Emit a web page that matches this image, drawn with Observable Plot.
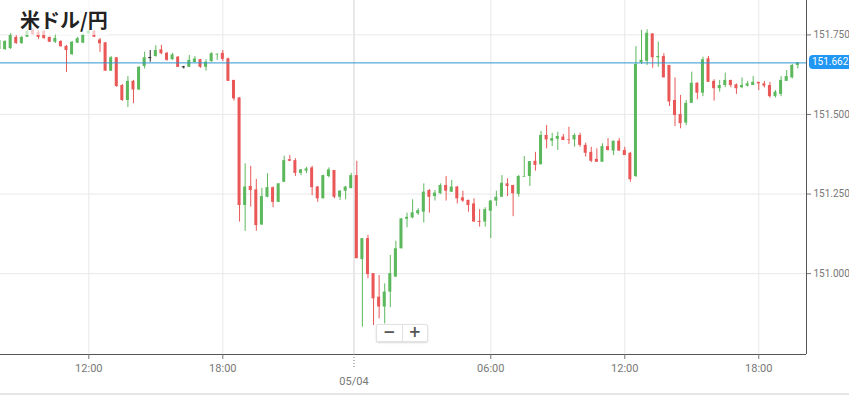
<!DOCTYPE html>
<html>
<head>
<meta charset="utf-8">
<script src="https://cdn.jsdelivr.net/npm/d3@7"></script>
<script src="https://cdn.jsdelivr.net/npm/@observablehq/plot@0.6"></script>
<style>
  html, body { margin: 0; padding: 0; background: #fff; }
  #wrap { position: relative; width: 849px; height: 395px; overflow: hidden; font-family: Roboto, "Liberation Sans", sans-serif; }
  #wrap svg { position: absolute; left: 0; top: 0; }
  #title { position: absolute; left: 14px; top: 0; width: 94px; height: 35px; background: rgba(255,255,255,0.68);
           box-sizing: border-box; padding: 10px 0 0 6px; font: bold 20px/20px "Noto Sans CJK JP", sans-serif; color: #222; white-space: nowrap; }
  #price { position: absolute; left: 809px; width: 44px; height: 14px; background: #2196f3; color: #fff;
           border-radius: 4px 0 0 4px; font: 10px/14px Roboto, sans-serif; padding-left: 3px; box-sizing: border-box; }
  #zoombtn { position: absolute; left: 376px; top: 324px; width: 52px; height: 18px; background: #fff;
             border: 1px solid #e2e2e2; border-radius: 2px; box-shadow: 0 1px 2px rgba(0,0,0,0.15); box-sizing: border-box; display: flex; }
  #zoombtn span { flex: 1; text-align: center; font: bold 15px/15px "DejaVu Sans", sans-serif; color: #555; }
  #zoombtn span:first-child { border-right: 1px solid #e2e2e2; }
  #bottombar { position: absolute; left: 0; top: 393px; width: 849px; height: 2px; background: #e6e6e6; }
</style>
</head>
<body>
<div id="wrap"></div>
<script>
// ---- data: 15-minute candles, slot 0 = 08:00 (05/03) ----
const opens = [151.704,151.704,151.707,151.742,151.723,151.743,151.764,151.757,151.761,151.742,
151.727,151.729,151.714,151.688,151.724,151.724,151.753,151.761,151.734,151.725,
151.636,151.678,151.591,151.544,151.604,151.577,151.651,151.677,151.682,151.703,
151.692,151.672,151.680,151.648,151.648,151.663,151.672,151.648,151.666,151.687,
151.692,151.675,151.607,151.552,151.214,151.274,151.263,151.153,151.240,151.270,
151.224,151.287,151.358,151.355,151.315,151.322,151.332,151.272,151.235,151.305,
151.324,151.240,151.259,151.267,151.308,151.044,151.110,151.000,150.926,150.895,
150.942,150.989,151.078,151.171,151.175,151.188,151.193,151.261,151.242,151.251,
151.277,151.256,151.272,151.238,151.230,151.219,151.164,151.162,151.196,151.228,
151.240,151.282,151.277,151.249,151.303,151.305,151.353,151.342,151.434,151.416,
151.422,151.429,151.421,151.420,151.434,151.403,151.381,151.359,151.350,151.399,
151.385,151.416,151.387,151.378,151.305,151.663,151.667,151.753,151.678,151.682,
151.654,151.544,151.500,151.473,151.535,151.598,151.567,151.675,151.604,151.581,
151.591,151.607,151.593,151.584,151.589,151.591,151.601,151.596,151.591,151.556,
151.563,151.604,151.615,151.654];
const highs = [151.735,151.732,151.754,151.748,151.745,151.764,151.770,151.764,151.764,151.743,
151.754,151.732,151.717,151.729,151.742,151.754,151.764,151.764,151.739,151.726,
151.682,151.679,151.594,151.619,151.607,151.651,151.696,151.701,151.716,151.717,
151.695,151.692,151.682,151.651,151.685,151.682,151.673,151.672,151.694,151.691,
151.701,151.677,151.607,151.553,151.345,151.337,151.296,151.268,151.314,151.272,
151.283,151.369,151.371,151.361,151.327,151.334,151.337,151.274,151.309,151.332,
151.324,151.261,151.274,151.315,151.353,151.110,151.120,151.000,150.994,150.968,
151.057,151.102,151.173,151.190,151.232,151.204,151.282,151.264,151.261,151.282,
151.305,151.293,151.274,151.259,151.231,151.235,151.201,151.207,151.230,151.259,
151.308,151.298,151.277,151.308,151.368,151.352,151.381,151.447,151.465,151.441,
151.444,151.437,151.460,151.439,151.441,151.410,151.397,151.392,151.408,151.424,
151.416,151.424,151.397,151.381,151.713,151.764,151.766,151.754,151.727,151.691,
151.654,151.615,151.560,151.544,151.633,151.600,151.680,151.682,151.609,151.607,
151.630,151.607,151.596,151.615,151.604,151.619,151.601,151.604,151.601,151.575,
151.619,151.638,151.657,151.663];
const lows = [151.701,151.701,151.704,151.720,151.720,151.742,151.748,151.735,151.735,151.726,
151.723,151.711,151.632,151.685,151.723,151.723,151.751,151.742,151.695,151.635,
151.635,151.585,151.541,151.522,151.534,151.575,151.643,151.664,151.680,151.688,
151.667,151.670,151.648,151.643,151.648,151.662,151.645,151.636,151.664,151.670,
151.666,151.604,151.542,151.162,151.133,151.209,151.133,151.151,151.238,151.207,
151.223,151.286,151.352,151.305,151.308,151.314,151.245,151.224,151.235,151.301,
151.235,151.230,151.232,151.267,151.047,150.832,150.984,150.837,150.858,150.842,
150.893,150.989,151.078,151.144,151.172,151.183,151.159,151.190,151.228,151.249,
151.228,151.255,151.219,151.224,151.193,151.162,151.146,151.146,151.110,151.211,
151.240,151.242,151.179,151.240,151.303,151.274,151.322,151.342,151.392,151.399,
151.387,151.418,151.406,151.397,151.397,151.366,151.349,151.349,151.350,151.385,
151.371,151.385,151.371,151.287,151.302,151.657,151.654,151.645,151.648,151.615,
151.525,151.462,151.455,151.465,151.535,151.546,151.556,151.601,151.542,151.570,
151.584,151.584,151.563,151.581,151.586,151.591,151.575,151.583,151.551,151.552,
151.556,151.604,151.612,151.643];
const closes = [151.732,151.729,151.748,151.723,151.742,151.761,151.751,151.742,151.739,151.727,
151.739,151.713,151.701,151.727,151.738,151.750,151.762,151.743,151.722,151.636,
151.678,151.588,151.544,151.604,151.577,151.648,151.678,151.677,151.701,151.691,
151.670,151.687,151.648,151.648,151.670,151.674,151.648,151.664,151.691,151.689,
151.673,151.604,151.549,151.214,151.272,151.261,151.151,151.242,151.270,151.224,
151.282,151.355,151.353,151.315,151.326,151.329,151.270,151.235,151.308,151.326,
151.240,151.259,151.272,151.308,151.047,151.110,150.997,150.921,150.895,150.942,
151.000,151.078,151.172,151.177,151.191,151.198,151.256,151.240,151.253,151.277,
151.259,151.272,151.235,151.228,151.214,151.162,151.161,151.201,151.228,151.240,
151.284,151.274,151.251,151.305,151.305,151.352,151.340,151.434,151.420,151.424,
151.431,151.418,151.419,151.434,151.403,151.378,151.353,151.350,151.399,151.387,
151.416,151.385,151.371,151.295,151.657,151.670,151.755,151.678,151.682,151.615,
151.539,151.497,151.471,151.535,151.598,151.567,151.672,151.601,151.581,151.591,
151.607,151.591,151.581,151.591,151.596,151.601,151.596,151.589,151.556,151.570,
151.607,151.619,151.654,151.662];

const titleText = "米ドル/円";
const lastPrice = 151.662;
const yTicks = [151.0, 151.25, 151.5, 151.75];
const xTicks = [16, 40, 88, 112, 136];          // slot indices
const xTickLabels = ["12:00", "18:00", "06:00", "12:00", "18:00"];
const dayTick = 63.5;                            // boundary between 05/03 and 05/04
const dayLabel = "05/04";

// ---- view ----
const xDomain = [0.18, 144.55];
const yDomain = [150.746, 151.858];
const GREEN = "#5cb85c", RED = "#e95757", DOJI = "#222";
const bodyHalf = 0.27;

const candles = opens.map((o, i) => ({i, open: o, high: highs[i], low: lows[i], close: closes[i]}));
const colorOf = d => d.close > d.open ? GREEN : d.close < d.open ? RED : DOJI;
const labelOf = new Map(xTicks.map((t, k) => [t, xTickLabels[k]]));

const chart = Plot.plot({
  width: 849, height: 395,
  marginLeft: 0, marginRight: 43, marginTop: 0, marginBottom: 41,
  style: {fontFamily: "Roboto, 'Liberation Sans', sans-serif", fontSize: "11px", color: "#777", background: "transparent"},
  x: {type: "linear", domain: xDomain},
  y: {domain: yDomain},
  marks: [
    Plot.gridX(xTicks, {stroke: "#e8e8e8", strokeOpacity: 1}),
    Plot.gridX([dayTick], {stroke: "#d2d2d2", strokeOpacity: 1}),
    Plot.gridY(yTicks, {stroke: "#e8e8e8", strokeOpacity: 1}),
    Plot.ruleX(candles, {x: "i", y1: "low", y2: "high", stroke: colorOf}),
    Plot.rect(candles.filter(d => d.open !== d.close), {x1: d => d.i - bodyHalf, x2: d => d.i + bodyHalf, y1: "open", y2: "close", fill: colorOf}),
    Plot.rect(candles.filter(d => d.open === d.close), {x1: d => d.i - bodyHalf, x2: d => d.i + bodyHalf, y1: "open", y2: "close", fill: DOJI, insetTop: -0.5, insetBottom: -0.5}),
    Plot.ruleY([lastPrice], {stroke: "#2f94cf"}),
    Plot.ruleX([xDomain[1]], {stroke: "#555"}),
    Plot.ruleY([yDomain[0]], {stroke: "#555"}),
    Plot.axisY(yTicks, {anchor: "right", tickFormat: d3.format(".3f"), tickSize: 4, tickPadding: 3, fontSize: 10, label: null}),
    Plot.axisX(xTicks, {anchor: "bottom", tickFormat: d => labelOf.get(d), tickSize: 5, tickPadding: 5, label: null}),
    Plot.axisX([dayTick], {anchor: "bottom", tickFormat: () => dayLabel, tickSize: 14, tickPadding: 9, strokeDasharray: "1,2", label: null})
  ]
});

const wrap = document.getElementById("wrap");
wrap.appendChild(chart);

const title = document.createElement("div");
title.id = "title"; title.textContent = titleText;
wrap.appendChild(title);

const price = document.createElement("div");
price.id = "price"; price.textContent = d3.format(".3f")(lastPrice);
price.style.top = (chart.scale("y").apply(lastPrice) - 7) + "px";
wrap.appendChild(price);

const zb = document.createElement("div");
zb.id = "zoombtn"; zb.innerHTML = "<span>−</span><span>+</span>";
wrap.appendChild(zb);

const bb = document.createElement("div");
bb.id = "bottombar";
wrap.appendChild(bb);
</script>
</body>
</html>
